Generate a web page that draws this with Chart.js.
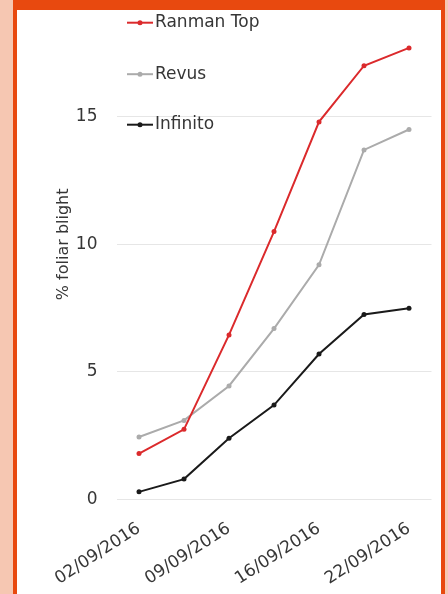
<!DOCTYPE html>
<html>
<head>
<meta charset="utf-8">
<script src="https://cdn.jsdelivr.net/npm/chart.js@4"></script>
<style>
  html, body { margin: 0; padding: 0; }
  body { width: 448px; height: 594px; background: #f6c7b2; position: relative; overflow: hidden; }
  #panel { position: absolute; left: 17px; top: 10px; width: 424px; height: 584px; background: #ffffff; overflow: hidden; }
  #panel canvas { position: absolute; left: 0; top: -50px; }
  .bar { position: absolute; background: #e8490f; }
</style>
</head>
<body>
<div id="panel"><canvas id="c" width="424" height="634"></canvas></div>
<div class="bar" style="left:13px; top:0; width:432px; height:10px;"></div>
<div class="bar" style="left:13px; top:0; width:4px; height:594px;"></div>
<div class="bar" style="left:441px; top:0; width:4px; height:594px;"></div>
<script>
// Categories (only every other sampling date is labelled on the axis)
const categories = ['02/09/2016', '', '09/09/2016', '', '16/09/2016', '', '22/09/2016'];
const seriesNames = ['Ranman Top', 'Revus', 'Infinito'];
const ranmanTop = [1.8, 2.75, 6.45, 10.5, 14.8, 17.0, 17.7];
const revus = [2.45, 3.1, 4.45, 6.7, 9.2, 13.7, 14.5];
const infinito = [0.3, 0.8, 2.4, 3.7, 5.7, 7.25, 7.5];
const yTicks = [0, 5, 10, 15, 20];
const seriesColors = ['#db2a2c', '#ababab', '#1a1a1a'];

const FONT = "'DejaVu Sans', sans-serif";

const legendPlugin = {
  id: 'stackLegend',
  afterDraw(chart) {
    const ctx = chart.ctx;
    const a = chart.chartArea;
    const x0 = a.left + 10.5, x1 = a.left + 36.5, tx = a.left + 38.5;
    const ys = [a.top + 33.5, a.top + 85, a.top + 135.5];
    ctx.save();
    ctx.font = '17px ' + FONT;
    ctx.textBaseline = 'middle';
    ctx.textAlign = 'left';
    chart.data.datasets.forEach((ds, i) => {
      const y = ys[i];
      ctx.strokeStyle = ds.borderColor;
      ctx.lineWidth = 2;
      ctx.beginPath();
      ctx.moveTo(x0, y);
      ctx.lineTo(x1, y);
      ctx.stroke();
      ctx.fillStyle = ds.borderColor;
      ctx.beginPath();
      ctx.arc((x0 + x1) / 2, y, 2.5, 0, Math.PI * 2);
      ctx.fill();
      ctx.fillStyle = '#363636';
      ctx.fillText(ds.label, tx, y);
    });
    ctx.restore();
  }
};

new Chart(document.getElementById('c'), {
  type: 'line',
  data: {
    labels: categories,
    datasets: [ranmanTop, revus, infinito].map((d, i) => ({
      label: seriesNames[i],
      data: d,
      borderColor: seriesColors[i],
      backgroundColor: seriesColors[i],
      borderWidth: 2,
      pointRadius: 2.5,
      pointBorderWidth: 0,
      tension: 0
    }))
  },
  options: {
    responsive: false,
    animation: false,
    devicePixelRatio: 1,
    layout: { padding: { left: 33, right: 9.5, top: 26.5, bottom: 0 } },
    plugins: { legend: { display: false }, tooltip: { enabled: false } },
    scales: {
      x: {
        offset: true,
        grid: { display: false, drawTicks: false },
        border: { display: false },
        ticks: {
          autoSkip: false,
          minRotation: 33,
          maxRotation: 33,
          padding: 19,
          color: '#363636',
          font: { family: FONT, size: 17 }
        },
        afterFit(s) { s.height = 94.5; }
      },
      y: {
        min: 0,
        max: 20,
        afterBuildTicks(s) { s.ticks = yTicks.map(v => ({ value: v })); },
        grid: { color: '#e6e6e6', lineWidth: 1, drawTicks: false },
        border: { display: false },
        ticks: {
          padding: 19,
          color: '#363636',
          font: { family: FONT, size: 17 }
        },
        title: {
          display: true,
          text: '% foliar blight',
          color: '#363636',
          font: { family: FONT, size: 16 }
        },
        afterFit(s) { s.width = 66.5; }
      }
    }
  },
  plugins: [legendPlugin]
});
</script>
</body>
</html>
